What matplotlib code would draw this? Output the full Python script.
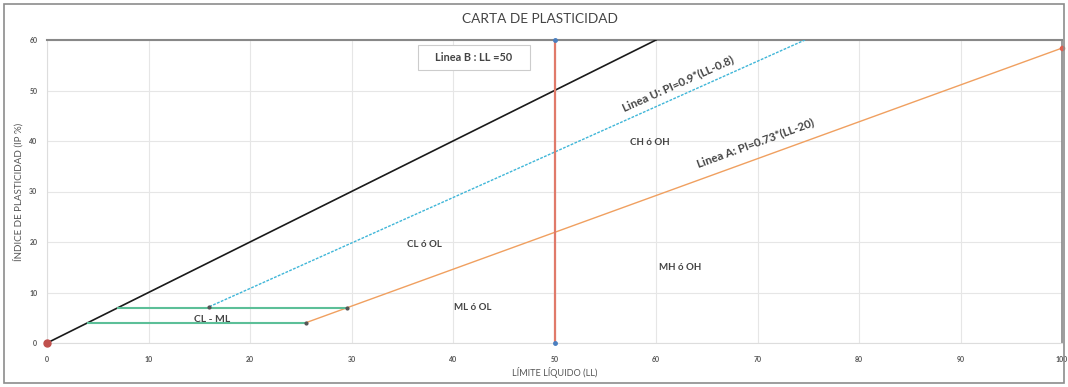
import numpy as np
import matplotlib
matplotlib.use("Agg")
import matplotlib.pyplot as plt
from matplotlib.patches import Rectangle

plt.rcParams['font.family'] = ['Lato', 'DejaVu Sans']

# Data
x_ticks = [0, 10, 20, 30, 40, 50, 60, 70, 80, 90, 100]
y_ticks = [0, 10, 20, 30, 40, 50, 60]

# Upper boundary PI = LL
line_sup_ll = [0, 60]
line_sup_pi = [0, 60]

# U line: PI = 0.9*(LL-8)
line_u_ll = [16, 74.67]
line_u_pi = [7.2, 60]

# A line: PI = 0.73*(LL-20)
line_a_ll = [25.48, 100]
line_a_pi = [4.0, 58.4]

# B line: LL = 50
line_b_ll = [50, 50]
line_b_pi = [0, 60]

# CL-ML band limits
band_top_ll = [7, 29.59]
band_top_pi = [7, 7]
band_bot_ll = [4, 25.48]
band_bot_pi = [4, 4]

# Zone labels
zone_text = ["CL ó OL", "CH ó OH", "ML ó OL", "MH ó OH"]
zone_x = [37.2, 59.4, 41.9, 62.4]
zone_y = [19.5, 39.8, 7.1, 14.9]

fig = plt.figure(figsize=(10.68, 3.87), dpi=100)
ax = fig.add_axes([47 / 1068, 1 - 343 / 387, (1062 - 47) / 1068, (343 - 40) / 387])

# outer frame
fig.patches.append(Rectangle((0.004, 0.01), 0.992, 0.98, transform=fig.transFigure,
                             fill=False, edgecolor='#8c8c8c', linewidth=1.2))

ax.set_xlim(0, 100)
ax.set_ylim(0, 60)
ax.set_xticks(x_ticks)
ax.set_yticks(y_ticks)
ax.grid(True, color='#e6e6e6', linewidth=0.8)
ax.set_axisbelow(True)
ax.tick_params(axis='both', length=0, labelsize=5, colors='#555555')
ax.tick_params(axis='x', pad=9)
ax.tick_params(axis='y', pad=7)
for lbl in ax.get_xticklabels() + ax.get_yticklabels():
    lbl.set_fontweight('bold')

for side in ['left', 'bottom']:
    ax.spines[side].set_color('#dddddd')
    ax.spines[side].set_linewidth(0.8)
ax.spines['top'].set_color('#888888')
ax.spines['top'].set_linewidth(1.5)
ax.spines['right'].set_color('#888888')
ax.spines['right'].set_linewidth(1.2)

ax.plot(line_sup_ll, line_sup_pi, color='#1a1a1a', linewidth=1.2, zorder=3)
ax.plot(line_u_ll, line_u_pi, color='#3fb6d8', linewidth=1.0, linestyle=(0, (2, 1)), zorder=3)
ax.plot(line_a_ll, line_a_pi, color='#f0a060', linewidth=1.0, zorder=3)
ax.plot(line_b_ll, line_b_pi, color='#e07a6a', linewidth=1.6, zorder=3)
ax.plot(band_top_ll, band_top_pi, color='#5cbf98', linewidth=1.5, zorder=3)
ax.plot(band_bot_ll, band_bot_pi, color='#5cbf98', linewidth=1.5, zorder=3)

# point markers
ax.plot(line_b_ll, line_b_pi, 'o', color='#4a7fc0', markersize=2.5, zorder=4, clip_on=False)
ax.plot([0], [0], 'o', color='#c0504d', markersize=5, zorder=5, clip_on=False)
ax.plot([line_a_ll[1]], [line_a_pi[1]], 'o', color='#e06050', markersize=3, zorder=5, clip_on=False)
ax.plot([line_a_ll[0], band_top_ll[1], line_u_ll[0]], [line_a_pi[0], band_top_pi[1], line_u_pi[0]],
        'o', color='#555555', markersize=2, zorder=5)

# B line label box
ax.add_patch(Rectangle((36.55, 54.06), 11.05, 4.95, facecolor='white', edgecolor='#cccccc',
                       linewidth=0.8, zorder=4))
ax.text(42.05, 56.5, "Linea B : LL =50", fontsize=7.8, fontweight='bold', color='#444444',
        ha='center', va='center', zorder=5)

# sloped line labels
ang_u = np.degrees(np.arctan(0.9 * (303 / 60) / (1015 / 100)))
ang_a = np.degrees(np.arctan(0.73 * (303 / 60) / (1015 / 100)))
ax.text(62.2, 51.3, "Linea U: PI=0.9*(LL-0.8)", fontsize=8.3, fontweight='bold', color='#444444',
        ha='center', va='center', rotation=ang_u, rotation_mode='anchor')
ax.text(69.8, 39.6, "Linea A: PI=0.73*(LL-20)", fontsize=8.3, fontweight='bold', color='#444444',
        ha='center', va='center', rotation=ang_a, rotation_mode='anchor')

for t, x, y in zip(zone_text, zone_x, zone_y):
    ax.text(x, y, t, fontsize=7, fontweight='bold', color='#444444', ha='center', va='center')
ax.text(16.3, 4.6, "CL - ML", fontsize=7.5, fontweight='bold', color='#444444',
        ha='center', va='center')

fig.text(0.506, 0.952, "CARTA DE PLASTICIDAD", fontsize=9.8, color='#444444', ha='center', va='center')
ax.set_xlabel("LÍMITE LÍQUIDO (LL)", fontsize=6.6, color='#555555', labelpad=3)
ax.set_ylabel("ÍNDICE DE PLASTICIDAD (IP %)", fontsize=7, color='#555555', labelpad=4)

fig.savefig("out.png", dpi=100)
